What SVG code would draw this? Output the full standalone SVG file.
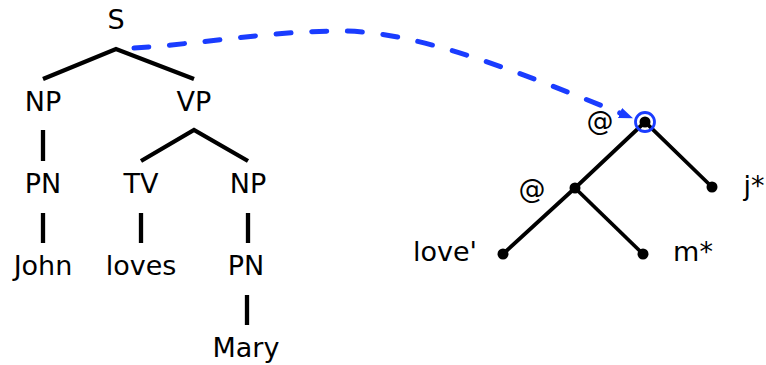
<svg xmlns="http://www.w3.org/2000/svg" width="766" height="365" viewBox="0 0 766 365">
<style>
text{font-family:"DejaVu Sans",sans-serif;font-size:27px;fill:#000;text-anchor:middle}
.e{stroke:#000;stroke-width:4.3;fill:none;stroke-linecap:butt}
.r{stroke:#000;stroke-width:3.8;fill:none}
.d{fill:#000}
.c{fill:none;stroke:#1a3cff;stroke-width:2.8}
</style>
<defs>
<marker id="ah" viewBox="0 0 14 11" refX="0" refY="5.5" markerWidth="14" markerHeight="11" markerUnits="userSpaceOnUse" orient="auto">
<path d="M0,0 L14,5.5 L0,11 Z" fill="#1a3cff"/>
</marker>
</defs>
<rect width="766" height="365" fill="#fff"/>
<g id="connectors">
<path class="e" d="M43,79 L116,49 L194,79"/>
<path class="e" d="M43,130 V161"/>
<path class="e" d="M43,213 V243"/>
<path class="e" d="M141,161 L194,130 L248,161"/>
<path class="e" d="M141,213 V243"/>
<path class="e" d="M248,213 V243"/>
<path class="e" d="M247,295 V325"/>
<path class="r" d="M503,254 L575,188 L645,122 L712,187"/>
<path class="r" d="M575,188 L643,254"/>
<path d="M134,48 C200,44 270,31 340,31 C420,31 520,73 620,113" fill="none" stroke="#1a3cff" stroke-width="5" stroke-linecap="round" stroke-dasharray="15,20.7" marker-end="url(#ah)"/>
</g>
<g id="n-S"><text x="116" y="29">S</text></g>
<g id="n-NP1"><text x="43" y="111">NP</text></g>
<g id="n-VP"><text x="194" y="111">VP</text></g>
<g id="n-PN1"><text x="43" y="193">PN</text></g>
<g id="n-TV"><text x="141" y="193">TV</text></g>
<g id="n-NP2"><text x="248" y="193">NP</text></g>
<g id="n-John"><text x="43" y="275">John</text></g>
<g id="n-loves"><text x="141" y="275">loves</text></g>
<g id="n-PN2"><text x="246" y="275">PN</text></g>
<g id="n-Mary"><text x="246" y="357">Mary</text></g>
<g id="n-root"><circle class="d" cx="645" cy="122" r="5.5"/><circle class="c" cx="645" cy="122" r="9.5"/><text x="600" y="130">@</text></g>
<g id="n-app"><circle class="d" cx="575" cy="188" r="5.5"/><text x="532" y="198">@</text></g>
<g id="n-j"><circle class="d" cx="712" cy="187" r="5.5"/><text x="754" y="195">j*</text></g>
<g id="n-love"><circle class="d" cx="503" cy="254" r="5.5"/><text x="445" y="261">love'</text></g>
<g id="n-m"><circle class="d" cx="643" cy="254" r="5.5"/><text x="693" y="261">m*</text></g>
</svg>
